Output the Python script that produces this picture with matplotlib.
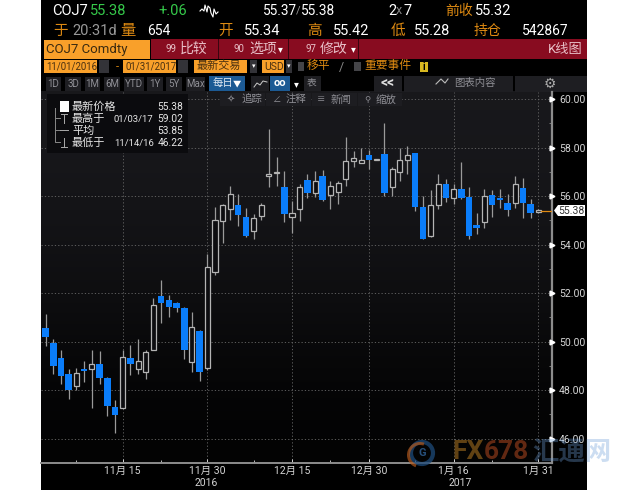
import matplotlib
matplotlib.use("Agg")
import matplotlib.pyplot as plt
import matplotlib.patches as mpatches
import numpy as np

plt.rcParams["font.family"] = ["Roboto", "Noto Sans CJK SC", "DejaVu Sans"]

# candles
opens = [50.54, 49.95, 49.33, 48.68, 48.18, 48.86, 48.88, 49.06, 48.49, 47.28,
         47.24, 49.30, 48.88, 48.73, 49.63, 51.88, 51.71, 51.57, 51.38, 49.14,
         50.42, 48.92, 52.88, 54.96, 55.45, 55.64, 55.15, 54.56, 55.18, 56.84,
         56.96, 56.36, 55.15, 55.45, 56.67, 56.12, 56.84, 56.04, 56.16, 56.70,
         57.44, 57.36, 57.70, 57.50, 57.75, 56.37, 56.97, 57.50, 57.77, 55.53,
         54.34, 55.61, 56.50, 55.92, 56.28, 55.97, 54.79, 54.92, 56.06, 55.90,
         55.71, 55.72, 56.34, 55.68, 55.33]
closes = [50.18, 49.00, 48.57, 47.98, 48.71, 48.79, 49.06, 48.51, 47.35, 46.95,
          49.36, 49.07, 49.18, 49.55, 51.50, 51.59, 51.44, 51.39, 49.66, 50.60,
          48.73, 53.09, 55.03, 55.64, 56.08, 55.21, 54.37, 55.11, 55.62, 56.92,
          56.99, 55.26, 55.32, 56.36, 56.11, 56.63, 55.85, 56.42, 56.55, 57.44,
          57.58, 57.49, 57.48, 57.52, 56.12, 57.11, 57.49, 57.71, 55.53, 54.23,
          55.61, 56.50, 55.92, 56.30, 55.93, 54.37, 54.68, 55.99, 55.63, 55.85,
          55.41, 56.48, 55.71, 55.32, 55.41]
highs = [51.13, 50.12, 49.65, 48.88, 48.90, 49.18, 49.65, 49.59, 48.53, 47.57,
         49.65, 49.84, 50.09, 49.65, 51.81, 52.54, 51.92, 51.64, 51.44, 51.20,
         50.47, 53.60, 55.56, 55.68, 56.40, 56.10, 55.52, 55.25, 55.71, 58.78,
         57.62, 57.05, 55.79, 56.48, 56.89, 57.05, 57.08, 56.64, 56.64, 58.44,
         57.85, 57.97, 57.90, 57.52, 59.03, 57.19, 57.99, 58.06, 57.77, 55.99,
         56.23, 56.90, 56.69, 56.50, 57.41, 56.37, 55.30, 56.30, 56.26, 56.28,
         56.07, 56.83, 56.74, 55.89, 55.45]
lows = [49.81, 48.66, 48.24, 47.64, 48.00, 48.34, 47.24, 48.24, 46.92, 46.24,
        47.24, 48.62, 48.68, 48.46, 49.63, 50.75, 51.02, 51.23, 49.28, 48.73,
        48.38, 48.82, 52.76, 54.07, 55.00, 54.77, 54.32, 54.22, 55.00, 56.37,
        56.40, 54.93, 54.48, 54.97, 55.92, 55.96, 55.79, 55.48, 55.66, 56.40,
        57.19, 57.36, 57.12, 57.50, 55.99, 55.99, 56.63, 56.90, 55.38, 54.21,
        54.30, 55.46, 55.75, 55.66, 55.89, 54.23, 54.44, 54.69, 55.13, 55.50,
        55.19, 55.50, 55.10, 55.08, 55.30]

y_ticks = [46, 48, 50, 52, 54, 56, 58, 60]
y_minor = [47, 49, 51, 53, 55, 57, 59]
x_ticks = [10, 21, 32, 42, 53, 64]
x_labels = ["11月 15", "11月 30", "12月 15", "12月 30", "1月 16", "1月 31"]
x_minor = [4, 15, 27, 37, 48, 58]
last_price = 55.38
spark_x = [200, 202, 204, 205, 207, 208, 210, 211, 213, 214, 216, 218]
spark_y = [11, 9, 11, 5, 12, 6, 8, 13, 17, 9, 14, 12]

BLUE = "#0a7dfa"
GRAY = "#9a9a9a"
ORANGE = "#de8a12"
BOX = "#f9a02a"
RED = "#880c20"
BTN = "#1e1e22"

W, H = 630, 490
fig = plt.figure(figsize=(W / 100, H / 100), dpi=100, facecolor="white")


def pixel_axes(z):
    a = fig.add_axes([0, 0, 1, 1], zorder=z)
    a.set_xlim(0, W)
    a.set_ylim(H, 0)
    a.axis("off")
    a.patch.set_alpha(0)
    return a


bg = pixel_axes(0)
fg = pixel_axes(3)


def label(a, x, y, s, color="white", size=8, ha="left", **kw):
    a.text(x, y, s, color=color, fontsize=size, ha=ha, va="center", **kw)


def box(a, x0, y0, x1, y1, color, **kw):
    a.add_patch(mpatches.Rectangle((x0, y0), x1 - x0, y1 - y0, facecolor=color,
                                   edgecolor="none", **kw))


# ── background ──────────────────────────────────────────────
box(bg, 41, 0, 587, 490, "black")
grad = np.array([[0.095], [0.085], [0.07], [0.05], [0.025], [0.012]])
bg.imshow(np.dstack([grad, grad, grad * 1.15]), extent=(41, 552, 463, 92),
          aspect="auto", interpolation="bicubic", zorder=1)
bg.set_xlim(0, W)
bg.set_ylim(H, 0)

# ── header rows ─────────────────────────────────────────────
label(bg, 52, 11, "COJ7", size=10.5)
label(bg, 90, 11, "55.38", "#35c94a", 10.5)
label(bg, 158, 11, "+.06", "#35c94a", 10.5)
bg.plot(spark_x, spark_y, color="white", lw=0.8)
label(bg, 263, 11, "55.37", size=9.8)
label(bg, 296, 11, "/", "#999999", 8)
label(bg, 301, 11, "55.38", size=9.8)
label(bg, 388, 11, "2", size=10.5)
label(bg, 396, 11, "x", "#888888", 9)
label(bg, 404, 11, "7", size=10.5)
label(bg, 445, 11, "前收", ORANGE, 10)
label(bg, 475, 11, "55.32", size=10.5)

label(bg, 53, 31, "于", ORANGE, 10.5)
label(bg, 72, 31, "20:31d", "#999999", 10.5)
label(bg, 120, 31, "量", ORANGE, 11)
label(bg, 147, 31, "654", size=10)
label(bg, 218, 31, "开", ORANGE, 10.5)
label(bg, 244, 31, "55.34", size=10.5)
label(bg, 307, 31, "高", ORANGE, 10.5)
label(bg, 333, 31, "55.42", size=10.5)
label(bg, 391, 31, "低", ORANGE, 10.5)
label(bg, 414, 31, "55.28", size=10.5)
label(bg, 474, 31, "持仓", ORANGE, 10)
label(bg, 522, 31, "542867", size=10)

box(bg, 44, 40, 150, 59, BOX)
label(bg, 46, 50, "COJ7 Comdty", "#3a2a10", 9.5)
box(bg, 151, 39, 587, 59, RED)
for sep in [218, 288, 358]:
    box(bg, sep, 39, sep + 1, 59, "#3a0610")
label(bg, 165, 49, "99", "#e8c0c8", 7)
label(bg, 180, 49, "比较", "#e8c0c8", 10)
label(bg, 233, 49, "90", "#e8c0c8", 7)
label(bg, 249, 49, "选项", "#e8c0c8", 10)
label(bg, 280, 49, "▾", "white", 7, ha="center")
label(bg, 305, 49, "97", "#e8c0c8", 7)
label(bg, 320, 49, "修改", "#e8c0c8", 10)
label(bg, 353, 49, "▾", "white", 7, ha="center")
label(bg, 548, 49, "K线图", "#e8c0c8", 9.5)

box(bg, 44, 60, 97, 73, BOX)
label(bg, 46, 67, "11/01/2016", "#4a3010", 6.9)
box(bg, 99, 60, 109, 73, "#333338")
label(bg, 117, 67, "-", ORANGE, 8, ha="center")
box(bg, 123, 60, 176, 73, BOX)
label(bg, 125, 67, "01/31/2017", "#4a3010", 6.9)
box(bg, 178, 60, 188, 73, "#333338")
box(bg, 194, 60, 247, 73, BOX)
label(bg, 197, 66, "最新交易", "#4a3010", 8)
box(bg, 250, 60, 257, 73, "#333338")
label(bg, 253.5, 67, "▾", "white", 5, ha="center")
box(bg, 262, 60, 284, 73, BOX)
label(bg, 264, 67, "USD", "#4a3010", 7.5)
box(bg, 286, 60, 292, 73, "#333338")
label(bg, 289, 67, "▾", "white", 5, ha="center")
box(bg, 298, 62, 304, 71, "#444448")
label(bg, 307, 66, "移平", ORANGE, 8.5)
label(bg, 341, 67, "/", "#888888", 9, ha="center")
box(bg, 354, 62, 361, 71, "#444448")
label(bg, 364, 66, "重要事件", ORANGE, 8.5)
box(bg, 420, 62, 428, 72, "#d8b820")
label(bg, 424, 67, "i", "black", 7, ha="center", fontweight="bold")

for x0, x1, s in [(46, 61, "1D"), (65, 81, "3D"), (85, 100, "1M"), (104, 120, "6M"),
                  (124, 144, "YTD"), (147, 163, "1Y"), (166, 182, "5Y"), (186, 205, "Max")]:
    box(bg, x0, 77, x1, 91, BTN)
    label(bg, (x0 + x1) / 2, 84, s, "#8f8f95", 7, ha="center")
box(bg, 209, 76, 245, 91, "#1c5a94")
label(bg, 213, 83, "每日", "#dfe8f2", 7.5)
label(bg, 237, 84, "▼", "white", 6, ha="center")
box(bg, 251, 76, 269, 91, BTN)
bg.plot([254, 257, 260, 263, 267], [87, 83, 85, 81, 82], color="#cccccc", lw=0.7)
box(bg, 270, 76, 290, 91, "#1c5a94")
label(bg, 280, 83.5, "oo", "white", 8, ha="center", fontweight="bold")
label(bg, 296, 84, "▾", "white", 7, ha="center")
box(bg, 304, 76, 321, 91, BTN)
label(bg, 312, 83, "表", "#8f8f95", 7, ha="center")
box(bg, 374, 76, 402, 92, BTN)
label(bg, 388, 83, "<<", "#dddddd", 10, ha="center", fontweight="bold")
box(bg, 404, 76, 513, 92, BTN)
bg.plot([436, 441, 445, 448], [84, 79, 83, 79], color="#bbbbbb", lw=0.8)
label(bg, 454, 83, "图表内容", "#8f8f95", 7.5)
box(bg, 515, 76, 587, 92, BTN)
label(bg, 550, 84, "⚙", "#aaaaaa", 10, ha="center")

# ── chart ───────────────────────────────────────────────────
px_per_unit = 24.15
step = 7.697
first_x = 45.7
left, right, top, bottom = 41, 552, 92, 463
ax = fig.add_axes([left / W, 1 - bottom / H, (right - left) / W, (bottom - top) / H], zorder=1)
ax.patch.set_alpha(0)
ax.set_xlim((left - first_x) / step, (right - first_x) / step)
ax.set_ylim(46 - (bottom - 438.6) / px_per_unit, 60 + (99 - top) / px_per_unit)

ax.set_yticks(y_ticks)
ax.set_yticks(y_minor, minor=True)
ax.set_yticklabels([f"{v:.2f}" for v in y_ticks])
ax.set_xticks(x_ticks)
ax.set_xticks(x_minor, minor=True)
ax.set_xticklabels(x_labels)
ax.yaxis.tick_right()
ax.tick_params(axis="y", which="major", colors="#d5d5d5", labelsize=7.6, length=0, pad=5)
ax.tick_params(axis="y", which="minor", color="#777777", length=2, width=0.7, direction="in")
ax.tick_params(axis="x", which="major", colors="#d5d5d5", labelsize=7.5, length=3,
               width=0.7, direction="in", pad=2)
ax.tick_params(axis="x", which="minor", color="#bbbbbb", length=2, width=0.7, direction="in")
ax.grid(True, which="major", color="#6a6a6a", lw=0.6, ls=(0, (1.5, 2.5)))
ax.set_axisbelow(True)
for name in ["left", "top"]:
    ax.spines[name].set_visible(False)
ax.spines["right"].set_color("#8c8c8c")
ax.spines["right"].set_linewidth(1.6)
ax.spines["bottom"].set_color("#8c8c8c")
ax.spines["bottom"].set_linewidth(1.4)
ax.plot([ax.get_xlim()[1]] * len(y_ticks), y_ticks, ls="none", marker=">", ms=3.5,
        color="white", clip_on=False, zorder=6)

idx = np.arange(len(opens))
o, c, hi, lo = map(np.array, (opens, closes, highs, lows))
ax.vlines(idx, lo, hi, color=GRAY, lw=0.9, zorder=3)
down = c < o
ax.bar(idx[down], (o - c)[down], bottom=c[down], width=0.86, color=BLUE, lw=0, zorder=4)
ax.bar(idx[~down], (c - o)[~down], bottom=o[~down], width=0.66, facecolor="#0d0d10",
       edgecolor="#b4b4b4", lw=0.9, zorder=4)
ax.plot([idx[-1] + 0.3, ax.get_xlim()[1]], [last_price, last_price], color="#e08a12", lw=0.9, zorder=5)

label(bg, 206, 483, "2016", "#d5d5d5", 7.5, ha="center")
label(bg, 460, 483, "2017", "#d5d5d5", 7.5, ha="center")

# ── overlays ────────────────────────────────────────────────
fg.add_patch(mpatches.Polygon([(554, 210.5), (558, 205), (585, 205), (585, 216), (558, 216)],
                              facecolor="white", edgecolor="none"))
label(fg, 558, 210.5, f"{last_price:.2f}", "#333333", 7.5)

box(fg, 47, 94, 188, 153, "#0b0b0e")
box(fg, 60, 101, 69, 112, "white")
fg.plot([55, 55, 60], [108, 142, 142], color="#888888", lw=0.7)
fg.plot([55, 60], [118, 118], color="#888888", lw=0.7)
fg.plot([55, 60], [130, 130], color="#888888", lw=0.7)
fg.plot([64, 64], [114, 123], color="#aaaaaa", lw=0.7)
fg.plot([61, 67], [114, 114], color="#aaaaaa", lw=0.7)
fg.plot([60, 68], [130, 130], color="#aaaaaa", lw=0.7)
fg.plot([64, 64], [138, 147], color="#aaaaaa", lw=0.7)
fg.plot([61, 67], [147, 147], color="#aaaaaa", lw=0.7)
label(fg, 72, 107, "最新价格", "#e6e6e6", 8)
label(fg, 183, 107, "55.38", "#e6e6e6", 7.4, ha="right")
label(fg, 72, 119, "最高于", "#e6e6e6", 8)
label(fg, 114, 119, "01/03/17", "#e6e6e6", 6.8)
label(fg, 183, 119, "59.02", "#e6e6e6", 7.4, ha="right")
label(fg, 72, 131, "平均", "#e6e6e6", 8)
label(fg, 183, 131, "53.85", "#e6e6e6", 7.4, ha="right")
label(fg, 72, 143, "最低于", "#e6e6e6", 8)
label(fg, 114, 143, "11/14/16", "#e6e6e6", 6.8)
label(fg, 183, 143, "46.22", "#e6e6e6", 7.4, ha="right")

for x0, x1, s, tx in [(220, 265, "追踪", 241), (266, 311, "注释", 286),
                      (312, 357, "新闻", 331), (358, 402, "缩放", 376)]:
    box(fg, x0, 93, x1, 106, "#1d1d21")
    label(fg, tx, 99.5, s, "#8f8f95", 7.5)
label(fg, 231, 100, "✧", "#8f8f95", 7, ha="center")
label(fg, 276, 100, "∠", "#8f8f95", 6, ha="center")
label(fg, 321, 100, "≡", "#8f8f95", 6, ha="center")
label(fg, 367, 100, "⚲", "#8f8f95", 6, ha="center")

# watermark
fg.add_patch(mpatches.Circle((422, 453), 11, facecolor="none", edgecolor="#1d4a7a", lw=3, alpha=0.75))
fg.add_patch(mpatches.Wedge((420, 455), 13, 110, 290, width=3, facecolor="#b0561a", edgecolor="none", alpha=0.7))
fg.text(422, 453, "G", color="#27507c", fontsize=8, ha="center", va="center", fontweight="bold")
label(fg, 452, 452, "FX", "#7a5218", 19, fontweight="bold", alpha=0.8)
label(fg, 484, 452, "678", "#7a3216", 19, fontweight="bold", alpha=0.8)
label(fg, 532, 453, "汇通网", "#6f9fd8", 19, fontweight="bold", alpha=0.35)

fig.savefig("out.png", dpi=100, facecolor="white")
